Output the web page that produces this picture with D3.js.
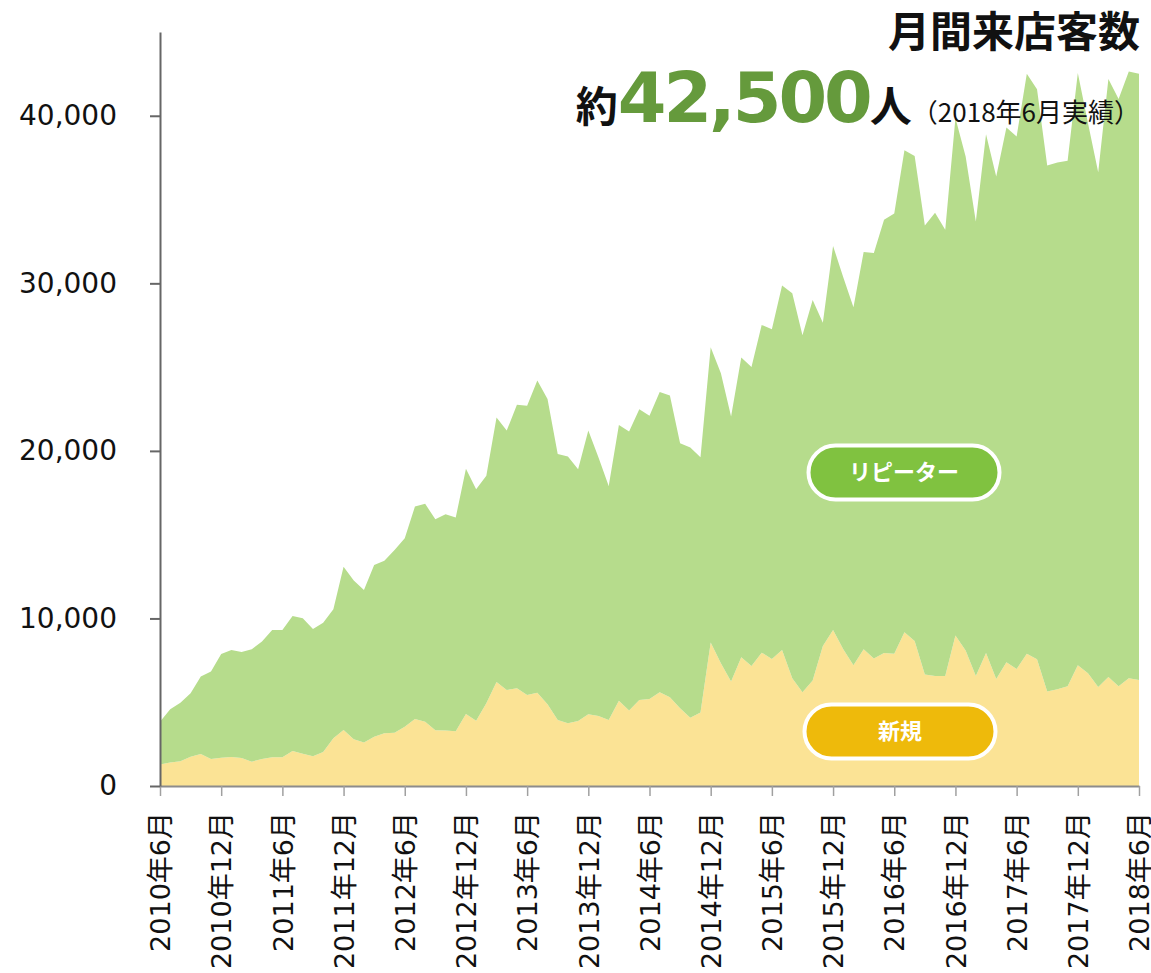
<!DOCTYPE html>
<html>
<head>
<meta charset="utf-8">
<script src="https://cdn.jsdelivr.net/npm/d3@7"></script>
<style>
  body { margin: 0; background: #fff; }
  svg { display: block; }
</style>
</head>
<body>
<svg id="chart" width="1151" height="973"></svg>
<script>
// months 2010年6月 .. 2018年6月
const months = d3.timeMonth.range(new Date(2010, 5, 1), new Date(2018, 6, 1))
    .map(d => `${d.getFullYear()}年${d.getMonth() + 1}月`);

const tickLabels = [
    "2010年6月", "2010年12月", "2011年6月", "2011年12月", "2012年6月", "2012年12月",
    "2013年6月", "2013年12月", "2014年6月", "2014年12月", "2015年6月", "2015年12月",
    "2016年6月", "2016年12月", "2017年6月", "2017年12月", "2018年6月"
];

const yTicks = [0, 10000, 20000, 30000, 40000];

// 新規
const newCustomers = [
    1290, 1410, 1470, 1750, 1910, 1610, 1690, 1730, 1670, 1450, 1610, 1710,
    1710, 2090, 1930, 1770, 2030, 2850, 3340, 2790, 2590, 2940, 3150, 3180,
    3540, 4000, 3840, 3320, 3310, 3270, 4300, 3900, 4940, 6200, 5730, 5830,
    5430, 5570, 4880, 3940, 3740, 3880, 4280, 4180, 3940, 5090, 4500, 5130,
    5190, 5590, 5290, 4640, 4080, 4380, 8560, 7330, 6230, 7680, 7160, 7960,
    7580, 8120, 6430, 5600, 6300, 8350, 9310, 8160, 7200, 8160, 7610, 7940,
    7890, 9180, 8660, 6650, 6570, 6570, 8980, 8080, 6570, 7940, 6380, 7390,
    6980, 7890, 7560, 5640, 5770, 5960, 7200, 6730, 5910, 6510, 5960, 6430,
    6320
];

// リピーター
const repeaters = [
    2550, 3170, 3500, 3780, 4620, 5220, 6190, 6390, 6330, 6710, 7010, 7600,
    7600, 8060, 8080, 7600, 7720, 7700, 9750, 9470, 9110, 10250, 10300, 10910,
    11250, 12680, 13000, 12600, 12910, 12750, 14630, 13810, 13570, 15790, 15480, 16920,
    17270, 18630, 18210, 15880, 15920, 15030, 16930, 15420, 13970, 16460, 16650, 17360,
    16900, 17930, 18010, 15820, 16120, 15240, 17630, 17310, 15820, 17890, 17840, 19560,
    19680, 21750, 22980, 21300, 22700, 19300, 22920, 22210, 21380, 23710, 24200, 25850,
    26280, 28770, 28940, 26800, 27650, 26630, 30880, 29490, 27120, 30960, 30000, 31910,
    31790, 34620, 34030, 31390, 31440, 31350, 35350, 32830, 30720, 35680, 35040, 36220,
    36190
];

const rows = months.map((m, i) => ({ month: m, newc: newCustomers[i], repeat: repeaters[i] }));

const svg = d3.select("#chart");
const plotLeft = 160, plotRight = 1139, plotBottom = 786, plotTop = 32;

const x = d3.scalePoint().domain(months).range([plotLeft, plotRight]);
const y = d3.scaleLinear().domain([0, 45000]).range([plotBottom, plotTop]);

const series = d3.stack().keys(["newc", "repeat"])(rows);
const fills = { newc: "#fbe395", repeat: "#b6dc8c" };

const area = d3.area()
    .x(d => x(d.data.month))
    .y0(d => y(d[0]))
    .y1(d => y(d[1]));

svg.append("g")
    .selectAll("path")
    .data(series)
    .join("path")
    .attr("fill", d => fills[d.key])
    .attr("d", area);

// x axis
const xAxis = svg.append("g")
    .attr("transform", `translate(0,${plotBottom})`)
    .call(d3.axisBottom(x).tickValues(tickLabels).tickSize(10).tickSizeOuter(0));
xAxis.select(".domain").attr("stroke", "#8c8c8c").attr("stroke-width", 2);
xAxis.selectAll(".tick line").attr("stroke", "#a0a0a0").attr("stroke-width", 1.5);
xAxis.selectAll(".tick text")
    .attr("font-family", "'DejaVu Sans', 'Noto Sans CJK JP', sans-serif")
    .attr("font-size", 27)
    .attr("fill", "#111")
    .attr("text-anchor", "end")
    .attr("transform", "rotate(-90)")
    .attr("x", -26)
    .attr("y", 0)
    .attr("dy", "0.36em");

// y axis
const yAxis = svg.append("g")
    .attr("transform", `translate(${plotLeft},0)`)
    .call(d3.axisLeft(y).tickValues(yTicks).tickSize(10).tickPadding(33)
        .tickSizeOuter(0).tickFormat(d3.format(",")));
yAxis.select(".domain").attr("stroke", "#666").attr("stroke-width", 2);
yAxis.selectAll(".tick line").attr("stroke", "#666").attr("stroke-width", 2);
yAxis.selectAll(".tick text")
    .attr("font-family", "'DejaVu Sans', sans-serif")
    .attr("font-size", 28)
    .attr("fill", "#111");

// title
svg.append("text")
    .attr("x", 1140)
    .attr("y", 47)
    .attr("text-anchor", "end")
    .attr("font-family", "'Noto Sans CJK JP', sans-serif")
    .attr("font-weight", "bold")
    .attr("font-size", 42)
    .attr("fill", "#111")
    .text("月間来店客数");

const big = svg.append("text")
    .attr("x", 1140)
    .attr("y", 122)
    .attr("text-anchor", "end")
    .attr("fill", "#111");
big.append("tspan")
    .attr("font-family", "'Noto Sans CJK JP', sans-serif")
    .attr("font-weight", "bold")
    .attr("font-size", 42)
    .text("約");
big.append("tspan")
    .attr("font-family", "'DejaVu Sans', sans-serif")
    .attr("font-weight", "bold")
    .attr("font-size", 70)
    .attr("letter-spacing", -3)
    .attr("fill", "#659a3c")
    .text("42,500");
big.append("tspan")
    .attr("font-family", "'Noto Sans CJK JP', sans-serif")
    .attr("font-weight", "bold")
    .attr("font-size", 42)
    .text("人");
big.append("tspan")
    .attr("font-family", "'Noto Sans CJK JP', sans-serif")
    .attr("font-size", 26)
    .text("（2018年6月実績）");

// series labels
const pills = [
    { text: "リピーター", cx: 904, cy: 472.5, fill: "#80c240" },
    { text: "新規", cx: 900, cy: 731.5, fill: "#eeba0b" }
];
const pw = 191, ph = 54;
const pg = svg.append("g")
    .selectAll("g")
    .data(pills)
    .join("g")
    .attr("transform", d => `translate(${d.cx},${d.cy})`);
pg.append("rect")
    .attr("x", -pw / 2)
    .attr("y", -ph / 2)
    .attr("width", pw)
    .attr("height", ph)
    .attr("rx", ph / 2)
    .attr("fill", d => d.fill)
    .attr("stroke", "#fff")
    .attr("stroke-width", 4);
pg.append("text")
    .attr("text-anchor", "middle")
    .attr("dy", "0.36em")
    .attr("font-family", "'Noto Sans CJK JP', sans-serif")
    .attr("font-weight", "bold")
    .attr("font-size", 22)
    .attr("fill", "#fff")
    .text(d => d.text);
</script>
</body>
</html>
